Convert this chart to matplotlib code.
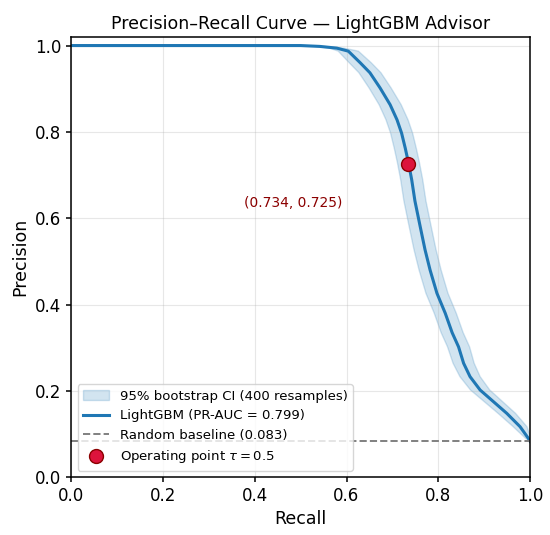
import numpy as np
import matplotlib.pyplot as plt

# PR curve
recall = [0.0, 0.50, 0.542, 0.579, 0.604, 0.630, 0.651, 0.673, 0.695, 0.710,
          0.720, 0.728, 0.735, 0.742, 0.749, 0.760, 0.771, 0.782, 0.797, 0.815,
          0.830, 0.844, 0.855, 0.869, 0.891, 0.920, 0.949, 0.978, 0.996, 1.0]
precision = [1.0, 1.0, 0.998, 0.994, 0.987, 0.960, 0.937, 0.902, 0.863, 0.828,
             0.797, 0.762, 0.728, 0.689, 0.640, 0.583, 0.527, 0.480, 0.426, 0.380,
             0.335, 0.302, 0.264, 0.233, 0.202, 0.175, 0.148, 0.117, 0.090, 0.083]
# bootstrap CI half-width, measured across the curve (recall units)
ci_half = [0.0, 0.0, 0.008, 0.016, 0.022, 0.024, 0.024, 0.024, 0.024, 0.024,
           0.024, 0.024, 0.024, 0.024, 0.024, 0.024, 0.024, 0.024, 0.024, 0.024,
           0.024, 0.024, 0.023, 0.022, 0.021, 0.02, 0.019, 0.015, 0.006, 0.0]

op_recall, op_precision = 0.734, 0.725
baseline = 0.083
pr_auc = 0.799

recall = np.array(recall)
precision = np.array(precision)
ci_half = np.array(ci_half)
# band outline: upper edge (shifted right) then lower edge back (shifted left)
band_x = np.concatenate([recall + ci_half, (recall - ci_half)[::-1]])
band_y = np.concatenate([precision, precision[::-1]])

fig = plt.figure(figsize=(5.5, 5.35), dpi=100)
ax = fig.add_axes([0.129, 0.108, 0.835, 0.823])

ax.fill(band_x, band_y, facecolor=(0.12, 0.47, 0.71, 0.2),
        edgecolor=(0.12, 0.47, 0.71, 0.2), lw=1.0,
        label='95% bootstrap CI (400 resamples)')
ax.plot(recall, precision, color='#1f77b4', lw=2.2,
        label=f'LightGBM (PR-AUC = {pr_auc:.3f})')
ax.axhline(baseline, color='grey', ls='--', lw=1.4,
           label=f'Random baseline ({baseline:.3f})')
ax.plot([op_recall], [op_precision], 'o', ms=10, color='#dc143c',
        markeredgecolor='#8b0000', markeredgewidth=1.0,
        label=r'Operating point $\tau = 0.5$', zorder=5)
ax.text(op_recall - 0.25, op_precision - 0.09,
        f'({op_recall:.3f}, {op_precision:.3f})',
        color='#8b0000', fontsize=10, ha='center', va='center')

ax.set_xlim(0, 1)
ax.set_ylim(0, 1.02)
ax.set_xlabel('Recall', fontsize=12.5)
ax.set_ylabel('Precision', fontsize=12.5)
ax.set_title('Precision–Recall Curve — LightGBM Advisor', fontsize=12.5)
ax.tick_params(labelsize=12, width=1.1)
for s in ax.spines.values():
    s.set_linewidth(1.1)
ax.grid(True, alpha=0.3)
ax.legend(loc='lower left', fontsize=9.5)

plt.savefig('out.png', dpi=100)
